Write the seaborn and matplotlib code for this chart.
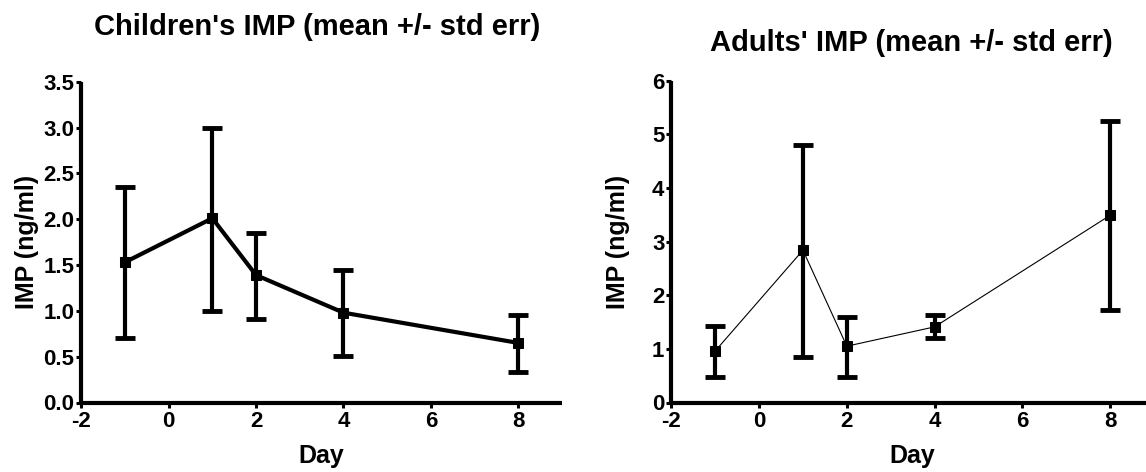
import matplotlib
matplotlib.use("Agg")
import matplotlib.pyplot as plt
import seaborn as sns
import pandas as pd

days = [-1, 1, 2, 4, 8]
child_mean = [1.53, 2.01, 1.39, 0.98, 0.65]
child_upper = [2.35, 3.00, 1.85, 1.45, 0.96]
child_lower = [0.70, 1.00, 0.91, 0.51, 0.33]
adult_mean = [0.96, 2.84, 1.05, 1.41, 3.49]
adult_upper = [1.43, 4.81, 1.60, 1.63, 5.24]
adult_lower = [0.47, 0.85, 0.47, 1.20, 1.72]

child_title = "Children's IMP (mean +/- std err)"
adult_title = "Adults' IMP (mean +/- std err)"
xlabel = "Day"
ylabel = "IMP (ng/ml)"

sns.set_theme(style="ticks")
plt.rcParams['font.family'] = ['Liberation Sans', 'DejaVu Sans']
plt.rcParams['font.weight'] = 'bold'
plt.rcParams['text.color'] = 'black'
plt.rcParams['axes.labelcolor'] = 'black'
plt.rcParams['xtick.color'] = 'black'
plt.rcParams['ytick.color'] = 'black'

W, H = 1146, 472
fig = plt.figure(figsize=(W / 100, H / 100), dpi=100)

def px_axes(x0, x1, ytop, ybot):
    return fig.add_axes([x0 / W, 1 - ybot / H, (x1 - x0) / W, (ybot - ytop) / H])

ax1 = px_axes(81.2, 562.0, 81.7, 402.5)
ax2 = px_axes(671.3, 1154.0, 80.7, 402.5)

def draw(ax, mean, upper, lower, lw, ylim, yticks, yfmt, ylabelpad):
    df = pd.DataFrame({"Day": days, "IMP": mean})
    err_lo = [m - l for m, l in zip(mean, lower)]
    err_hi = [u - m for m, u in zip(mean, upper)]
    eb = ax.errorbar(days, mean, yerr=[err_lo, err_hi], fmt="none", ecolor="black",
                     elinewidth=3.0, capsize=7.5, capthick=3.5, zorder=2, clip_on=False)
    for cap in eb[1]:
        cap.set_solid_capstyle("round")
    sns.lineplot(data=df, x="Day", y="IMP", ax=ax, color="black", linewidth=lw,
                 marker="s", markersize=7, markeredgecolor="black", zorder=3)
    ax.set_xlim(-2, 9)
    ax.set_ylim(*ylim)
    ax.set_yticks(yticks)
    ax.set_yticklabels([yfmt.format(t) for t in yticks])
    ax.set_xticks([-2, 0, 2, 4, 6, 8])
    ax.set_xticklabels(["-2", "0", "2", "4", "6", "8"])
    for s in ["top", "right"]:
        ax.spines[s].set_visible(False)
    for s in ["left", "bottom"]:
        ax.spines[s].set_linewidth(3.0)
        ax.spines[s].set_color("black")
        ax.spines[s].set_capstyle("butt")
    ax.tick_params(axis="both", which="major", length=3.5, width=2.2, color="black",
                   labelsize=16, pad=1.5)
    ax.tick_params(axis="x", pad=2.5)
    for lab in ax.get_xticklabels() + ax.get_yticklabels():
        lab.set_fontweight("bold")
    ax.set_xlabel(xlabel, fontsize=18, fontweight="bold", labelpad=9)
    ax.set_ylabel(ylabel, fontsize=18, fontweight="bold", labelpad=ylabelpad)

draw(ax1, child_mean, child_upper, child_lower, 3.0, (0, 3.5),
     [0.0, 0.5, 1.0, 1.5, 2.0, 2.5, 3.0, 3.5], "{:.1f}", 3)
draw(ax2, adult_mean, adult_upper, adult_lower, 0.8, (0, 6),
     [0, 1, 2, 3, 4, 5, 6], "{:d}", 16)

fig.text(316.7 / W, 1 - 35 / H, child_title, ha="center", va="baseline",
         fontsize=21, fontweight="bold")
fig.text(911 / W, 1 - 51 / H, adult_title, ha="center", va="baseline",
         fontsize=21, fontweight="bold")

fig.savefig("out.png", dpi=100)
